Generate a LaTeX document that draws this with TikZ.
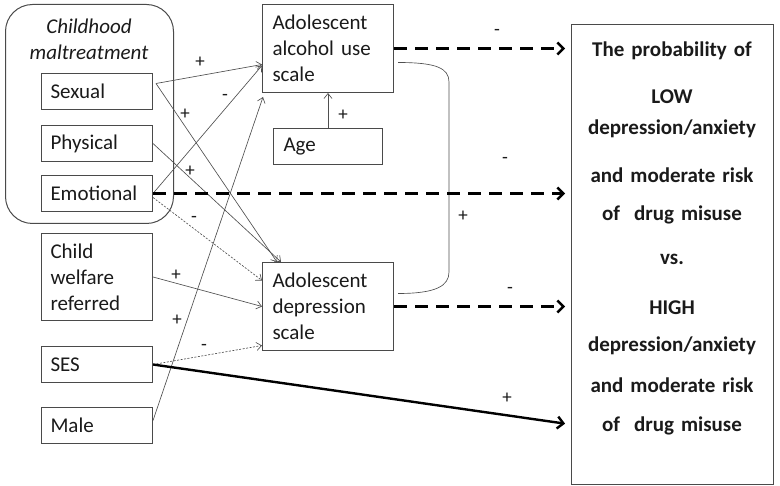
\documentclass[tikz,border=0pt]{standalone}
\usepackage{fontspec}
\setmainfont{Carlito}
\usetikzlibrary{arrows.meta,calc}
\definecolor{bordergray}{HTML}{4A4A4A}
\definecolor{linegray}{HTML}{4F4F4F}
\definecolor{txt}{HTML}{1A1A1A}
\begin{document}
\begin{tikzpicture}[x=1pt,y=-1pt,
  box/.style={draw=bordergray, line width=1pt, inner xsep=9pt, inner ysep=0pt,
    anchor=north west, align=left, font=\fontsize{21}{26}\selectfont, text=txt},
  thinarrow/.style={draw=linegray, line width=0.65pt, -{Straight Barb[length=5pt,width=8pt]}},
  dotarrow/.style={thinarrow, dash pattern=on 2pt off 1.5pt},
  thickdash/.style={line width=2.4pt, dash pattern=on 13pt off 8pt,
    -{Straight Barb[length=6pt,width=12pt]}, shorten >=6pt},
  thicksolid/.style={line width=2.4pt, -{Straight Barb[length=6pt,width=12pt]}, shorten >=6pt},
  sign/.style={font=\fontsize{19}{22}\selectfont, text=txt, inner sep=0pt}]
\useasboundingbox (0,0) rectangle (780,486);

% group box
\node[draw=bordergray, line width=1pt, rounded corners=27pt, minimum width=168pt,
  minimum height=219pt, anchor=north west, inner sep=0pt] (cm) at (5,4) {};
\node[font=\itshape\fontsize{21}{26}\selectfont, text=txt, text width=150pt, align=center,
  anchor=base, inner sep=0pt] (cmlab) at (89,34) {Childhood\\maltreatment};

% left boxes
\node[box, minimum width=111pt, minimum height=36pt, text width=93pt] (sex) at (41,73) {Sexual};
\node[box, minimum width=111pt, minimum height=36pt, text width=93pt] (phy) at (41,125) {Physical};
\node[box, minimum width=111pt, minimum height=36pt, text width=93pt] (emo) at (41,175) {Emotional};
\node[box, minimum width=111pt, minimum height=87pt, text width=93pt] (cwr) at (41,233) {Child\\welfare\\referred};
\node[box, minimum width=111pt, minimum height=36pt, text width=93pt] (ses) at (41,346) {SES};
\node[box, minimum width=111pt, minimum height=36pt, text width=93pt] (male) at (41,407) {Male};

% middle boxes
\node[box, inner xsep=10pt, minimum width=131pt, minimum height=88pt, text width=111pt] (alc) at (262,4) {Adolescent\\alcohol use\\scale};
\node[box, inner xsep=10pt, minimum width=109pt, minimum height=36pt, text width=89pt] (age) at (273,128) {Age};
\node[box, inner xsep=10pt, minimum width=131pt, minimum height=88pt, text width=111pt] (dep) at (262,262) {Adolescent\\depression\\scale};

% outcome box
\node[draw=bordergray, line width=1pt, minimum width=202pt, minimum height=460pt,
  anchor=north west, inner sep=0pt] (out) at (571,24) {};
\node[font=\bfseries\fontsize{21}{26}\selectfont, text=txt, text width=200pt, align=center,
  anchor=base, inner sep=0pt] (outtext) at (672,56.7)
  {The probability of\\[21pt]
   LOW\\[5pt]
   depression/anxiety\\[21.7pt]
   and moderate risk\\[12pt]
   of\ \ drug misuse\\[18.3pt]
   vs.\\[24pt]
   HIGH\\[10.7pt]
   depression/anxiety\\[15.3pt]
   and moderate risk\\[12.7pt]
   of\ \ drug misuse};

% thin connectors
\draw[thinarrow] ($(sex.east)+(3,-8)$) -- ($(alc.west)+(0,16)$);
\draw[thinarrow] ($(sex.east)+(3,-8)$) -- ($(dep.north west)+(15,0)$);
\draw[thinarrow] (phy.east) -- ($(dep.north west)+(19,0)$);
\draw[thinarrow] (emo.east) -- ($(alc.west)+(0,17)$);
\draw[dotarrow] ($(emo.east)+(0,4)$) -- ($(dep.west)+(0,-26)$);
\draw[thinarrow] (cwr.east) -- (dep.west);
\draw[dotarrow] (ses.east) -- ($(dep.west)+(0,39)$);
\draw[thinarrow] ($(male.east)+(0,-5)$) -- ($(alc.south west)+(1,4)$);
\draw[thinarrow] (age.north) -- (age.north |- alc.south);

% correlation curve
\draw[draw=linegray, line width=0.65pt] ($(alc.east)+(4,14)$) .. controls +(38,0) and +(0,-14) .. (449,82)
  -- (449,272) .. controls +(0,14) and +(38,0) .. ($(dep.east)+(4,-13)$);

% thick connectors
\draw[thickdash] (alc.east) -- (alc.east -| out.west);
\draw[thickdash] (emo.east) -- (emo.east -| out.west);
\draw[thickdash] (dep.east) -- (dep.east -| out.west);
\draw[thicksolid] (ses.east) -- ($(out.west)+(0,170)$);

% signs
\node[sign] (s1) at (200,62) {+};
\node[sign] (s2) at (225,97) {-};
\node[sign] (s3) at (185,114) {+};
\node[sign] (s4) at (190,171) {+};
\node[sign] (s5) at (194,219) {-};
\node[sign] (s6) at (176,275) {+};
\node[sign] (s7) at (177,320) {+};
\node[sign] (s8) at (204,347) {-};
\node[sign] (s9) at (507,398) {+};
\node[sign] (s10) at (497,32) {-};
\node[sign] (s11) at (505,160) {-};
\node[sign] (s12) at (510,290) {-};
\node[sign] (s13) at (343,115) {+};
\node[sign] (s14) at (463,216) {+};
\end{tikzpicture}
\end{document}
